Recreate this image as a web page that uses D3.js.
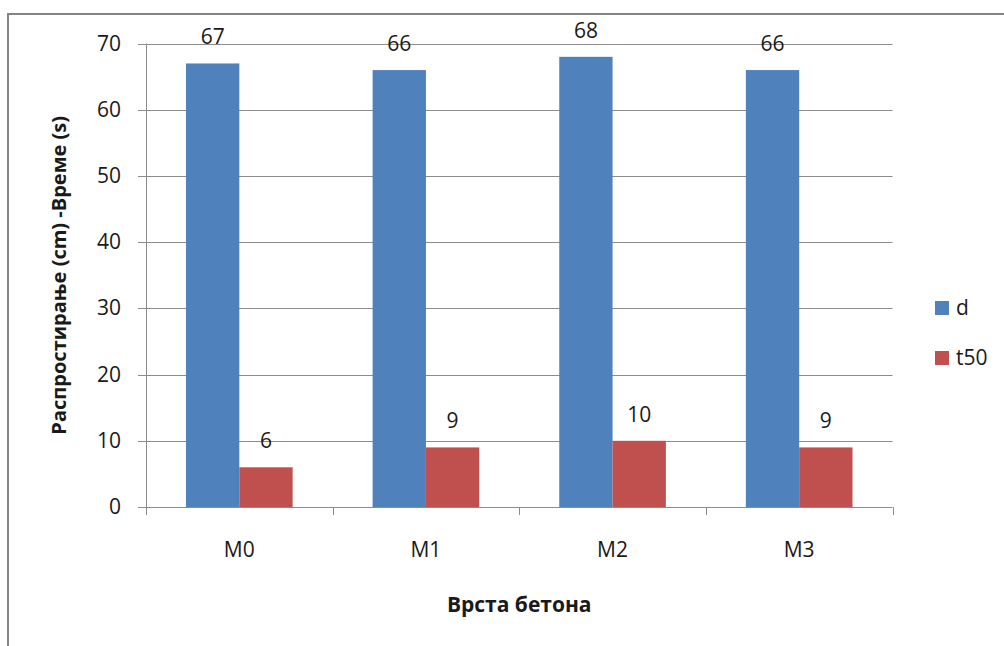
<!DOCTYPE html>
<html><head><meta charset="utf-8">
<script src="https://cdn.jsdelivr.net/npm/d3@7"></script>
<style>body{margin:0;background:#fff}svg{display:block}text{font-family:"Open Sans",sans-serif;fill:#1a1a1a}</style>
</head><body>
<script>
const categories = ["M0","M1","M2","M3"];
const seriesNames = ["d","t50"];
const dValues = [67,66,68,66];
const t50Values = [6,9,10,9];
const yTicks = [0,10,20,30,40,50,60,70];
const colors = ["#4F81BD","#C0504D"];
const xTitle = "Врста бетона";
const yTitle = "Распростирање (cm) -Време (s)";

const W=1004,H=646;
const svg=d3.select("body").append("svg").attr("width",W).attr("height",H);
// chart frame
svg.append("rect").attr("x",8).attr("y",14).attr("width",1100).attr("height",700)
  .attr("fill","none").attr("stroke","#858585").attr("stroke-width",2);

const L=146,R=892.5,T=43.6,B=507;
const y=d3.scaleLinear().domain([0,70]).range([B,T]);
const x=d3.scaleBand().domain(categories).range([L,R]).paddingInner(0).paddingOuter(0);
const bw=x.bandwidth()/3.5;
const data=categories.map((c,i)=>({c,vals:[dValues[i],t50Values[i]]}));

// gridlines
svg.append("g").selectAll("line").data(yTicks).join("line")
  .attr("x1",L-8).attr("x2",R).attr("y1",d=>Math.round(y(d))+0.5).attr("y2",d=>Math.round(y(d))+0.5)
  .attr("stroke","#8c8c8c").attr("stroke-width",1);
// y axis line
svg.append("line").attr("x1",L+0.5).attr("x2",L+0.5).attr("y1",T).attr("y2",B).attr("stroke","#8c8c8c");
// x ticks
svg.append("g").selectAll("line").data(d3.range(categories.length+1)).join("line")
  .attr("x1",d=>Math.round(L+d*x.step())+0.5).attr("x2",d=>Math.round(L+d*x.step())+0.5)
  .attr("y1",B).attr("y2",B+8).attr("stroke","#8c8c8c");

// bars
const g=svg.append("g");
data.forEach(d=>{
  d.vals.forEach((v,j)=>{
    const bx=x(d.c)+bw*0.75+j*bw;
    g.append("rect").attr("x",bx).attr("y",y(v)).attr("width",bw).attr("height",B-y(v)).attr("fill",colors[j]);
    g.append("text").attr("x",bx+bw/2).attr("y",y(v)-19).attr("text-anchor","middle")
      .attr("font-size",21).text(v);
  });
});

// y tick labels
svg.append("g").selectAll("text").data(yTicks).join("text")
  .attr("x",121).attr("y",d=>y(d)+7).attr("text-anchor","end").attr("font-size",21).text(d=>d);
// x labels
svg.append("g").selectAll("text").data(categories).join("text")
  .attr("x",d=>x(d)+x.bandwidth()/2).attr("y",557).attr("text-anchor","middle").attr("font-size",21).text(d=>d);

// titles
svg.append("text").attr("x",(L+R)/2).attr("y",612).attr("text-anchor","middle")
  .attr("font-size",21).attr("font-weight","bold").text(xTitle);
svg.append("text").attr("transform",`translate(66,${(T+B)/2}) rotate(-90)`).attr("text-anchor","middle")
  .attr("font-size",20).attr("font-weight","bold").text(yTitle);

// legend
seriesNames.forEach((s,i)=>{
  svg.append("rect").attr("x",935).attr("y",301+i*50).attr("width",14).attr("height",14).attr("fill",colors[i]);
  svg.append("text").attr("x",956).attr("y",315+i*50).attr("font-size",21).text(s);
});
</script>
</body></html>
